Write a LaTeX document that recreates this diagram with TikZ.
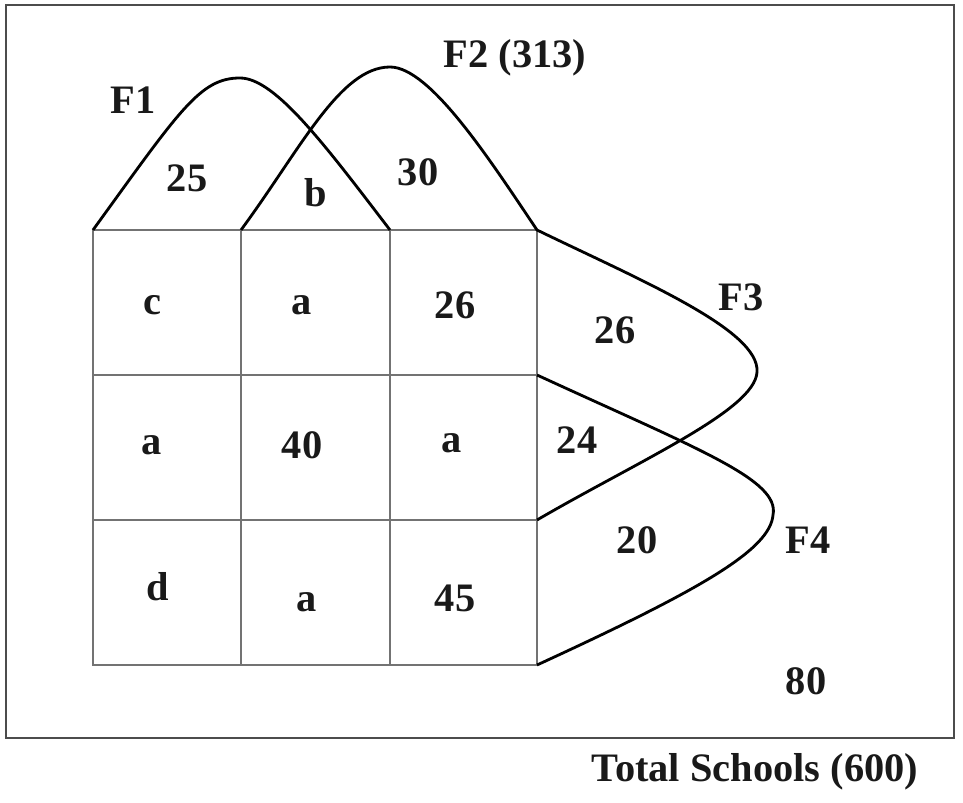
\documentclass[tikz,border=0pt]{standalone}
\usepackage{fontspec}
\setmainfont{Liberation Serif}
\begin{document}
\begin{tikzpicture}[x=0.02cm,y=-0.02cm,
  lbl/.style={font=\fontsize{23}{25}\selectfont\bfseries, inner sep=0pt, text=black!90},
  gridline/.style={draw=black!55, line width=0.8pt},
  setcurve/.style={draw=black, line width=1.6pt, line join=round},
  frame/.style={draw=black!70, line width=1.4pt}]
\useasboundingbox (0,0) rectangle (963,803);
\draw[frame] (6,5) rectangle (954,738);
% grid
\coordinate (g00) at (93,230);  \coordinate (g30) at (537,230);
\coordinate (g03) at (93,665);  \coordinate (g33) at (537,665);
\draw[gridline] (g00) rectangle (g33);
\draw[gridline] (241,230) -- (241,665);
\draw[gridline] (390,230) -- (390,665);
\draw[gridline] (93,375) -- (537,375);
\draw[gridline] (93,520) -- (537,520);
% F1
\draw[setcurve] (93,230) .. controls (180,110) and (200,78) .. (240,78)
  .. controls (275,78) and (325,145) .. (390,230);
% F2 and F3
\draw[setcurve] (241,230) .. controls (300,150) and (340,67) .. (390,67)
  .. controls (430,67) and (490,160) .. (537,230)
  .. controls (640,280) and (760,330) .. (757,372)
  .. controls (755,410) and (640,460) .. (537,520);
% F4
\draw[setcurve] (537,375) .. controls (700,450) and (780,480) .. (773,515)
  .. controls (770,550) and (700,590) .. (537,665);
% labels
\node[lbl] (f1) at (133,100) {F1};
\node[lbl] (f2) at (515,58) {F2 (313)};
\node[lbl] (f3) at (741,297) {F3};
\node[lbl] (f4) at (808,540) {F4};
\node[lbl] (n25) at (187,178) {25};
\node[lbl] (nb) at (316,193) {b};
\node[lbl] (n30) at (418,172) {30};
\node[lbl] (c11) at (152,305) {c};
\node[lbl] (c12) at (302,305) {a};
\node[lbl] (c13) at (455,305) {26};
\node[lbl] (n26) at (615,330) {26};
\node[lbl] (c21) at (152,445) {a};
\node[lbl] (c22) at (302,445) {40};
\node[lbl] (c23) at (452,443) {a};
\node[lbl] (n24) at (577,440) {24};
\node[lbl] (n20) at (637,540) {20};
\node[lbl] (c31) at (158,587) {d};
\node[lbl] (c32) at (307,602) {a};
\node[lbl] (c33) at (455,598) {45};
\node[lbl] (n80) at (806,681) {80};
\node[lbl] (tot) at (755,772) {Total Schools (600)};
\end{tikzpicture}
\end{document}
